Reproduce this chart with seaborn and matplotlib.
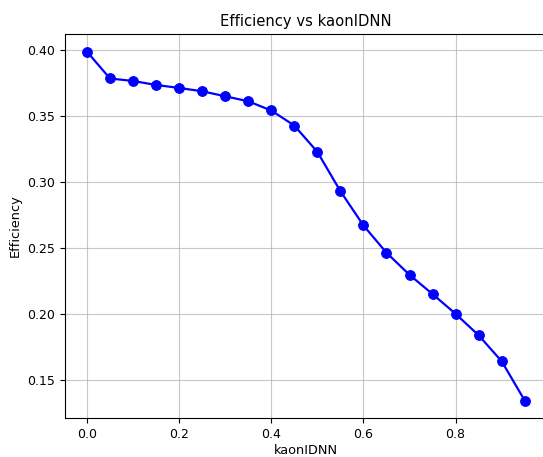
import numpy as np
import pandas as pd
import matplotlib
matplotlib.use('Agg')
import matplotlib.pyplot as plt
import seaborn as sns

# kaonIDNN cut values and the measured efficiency
kaon_cut = [0.00, 0.05, 0.10, 0.15, 0.20, 0.25, 0.30, 0.35, 0.40, 0.45,
            0.50, 0.55, 0.60, 0.65, 0.70, 0.75, 0.80, 0.85, 0.90, 0.95]
efficiency = [0.399, 0.3786, 0.3767, 0.3737, 0.3714, 0.3689, 0.3651, 0.3613, 0.3543, 0.3429,
              0.3229, 0.2931, 0.2671, 0.2464, 0.2296, 0.2150, 0.2000, 0.1837, 0.1640, 0.1342]

df = pd.DataFrame({'kaonIDNN': kaon_cut, 'Efficiency': efficiency})

fig = plt.figure(figsize=(5.43, 4.57), dpi=100)
ax = fig.add_axes([0.1197, 0.0853, 0.887, 0.840])

sns.lineplot(data=df, x='kaonIDNN', y='Efficiency', marker='o', color='blue',
             markersize=7, markeredgecolor='blue', linewidth=1.6, ax=ax)

ax.set_title('Efficiency vs kaonIDNN', fontsize=10.6)
ax.set_xlabel('kaonIDNN', fontsize=9.3, labelpad=2)
ax.set_ylabel('Efficiency', fontsize=9.3)
ax.set_xticks([0.0, 0.2, 0.4, 0.6, 0.8])
ax.set_yticks([0.15, 0.20, 0.25, 0.30, 0.35, 0.40])
ax.tick_params(labelsize=9)
ax.grid(True, color='#b0b0b0', linewidth=0.8, alpha=0.7)

fig.savefig('out.png', dpi=100)
